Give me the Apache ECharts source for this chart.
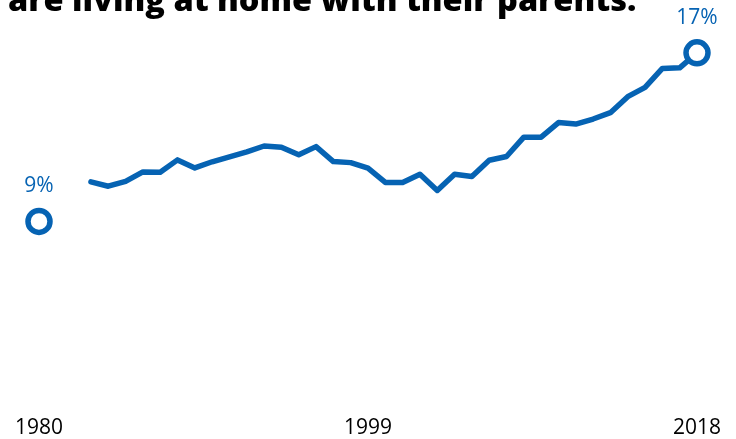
<!DOCTYPE html>
<html>
<head>
<meta charset="utf-8">
<script src="https://cdn.jsdelivr.net/npm/echarts@6/dist/echarts.min.js"></script>
<style>
  html, body { margin: 0; padding: 0; background: #fff; }
  #chart { width: 736px; height: 439px; }
</style>
</head>
<body>
<div id="chart"></div>
<script>
// share of young adults living with parents, %
const years = [];
for (let y = 1980; y <= 2018; y++) years.push(String(y));
const shares = [
  9.0, null, null, 10.88, 10.67, 10.90, 11.35, 11.33, 11.92, 11.54,
  11.83, 12.06, 12.30, 12.58, 12.52, 12.16, 12.55, 11.84, 11.79, 11.53,
  10.85, 10.85, 11.24, 10.47, 11.24, 11.13, 11.90, 12.08, 13.00, 13.00,
  13.69, 13.62, 13.86, 14.16, 14.92, 15.36, 16.26, 16.29, 17.0
];
const shownYears = ['1980', '1999', '2018'];
const endLabels = { 0: '9%', 38: '17%' };

const BLUE = '#0663b3';
const FONT = '"Open Sans", sans-serif';

const chart = echarts.init(document.getElementById('chart'));

const seriesData = shares.map((v, i) => {
  if (!(i in endLabels)) return v;
  return {
    value: v,
    symbol: 'circle',
    symbolSize: 22,
    itemStyle: { color: '#fff', borderColor: BLUE, borderWidth: 5.5 },
    label: {
      show: true,
      position: 'top',
      distance: 11,
      formatter: endLabels[i],
      color: BLUE,
      fontFamily: FONT,
      fontSize: 21,
      fontWeight: 400
    }
  };
});

chart.setOption({
  animation: false,
  // 0% sits at y≈412 so 9% lands near 222 and 17% near 53
  grid: { left: 39, right: 39, top: 31.8, bottom: 27 },
  graphic: [{
    type: 'text',
    left: 8,
    top: -15,
    style: {
      text: 'are living at home with their parents.',
      fill: '#000',
      font: '800 32.5px "Open Sans", sans-serif'
    }
  }],
  xAxis: {
    type: 'category',
    data: years,
    boundaryGap: false,
    axisLine: { show: false },
    axisTick: { show: false },
    axisLabel: {
      interval: (idx, val) => shownYears.includes(val),
      margin: 7,
      color: '#000',
      fontFamily: FONT,
      fontSize: 21,
      fontWeight: 400
    }
  },
  yAxis: {
    type: 'value',
    min: 0,
    max: 18,
    show: false
  },
  series: [{
    type: 'line',
    data: seriesData,
    symbol: 'none',
    showAllSymbol: true,
    connectNulls: false,
    lineStyle: { color: BLUE, width: 5.5, join: 'round', cap: 'round' },
    itemStyle: { color: BLUE },
    z: 2
  }]
});
</script>
</body>
</html>
